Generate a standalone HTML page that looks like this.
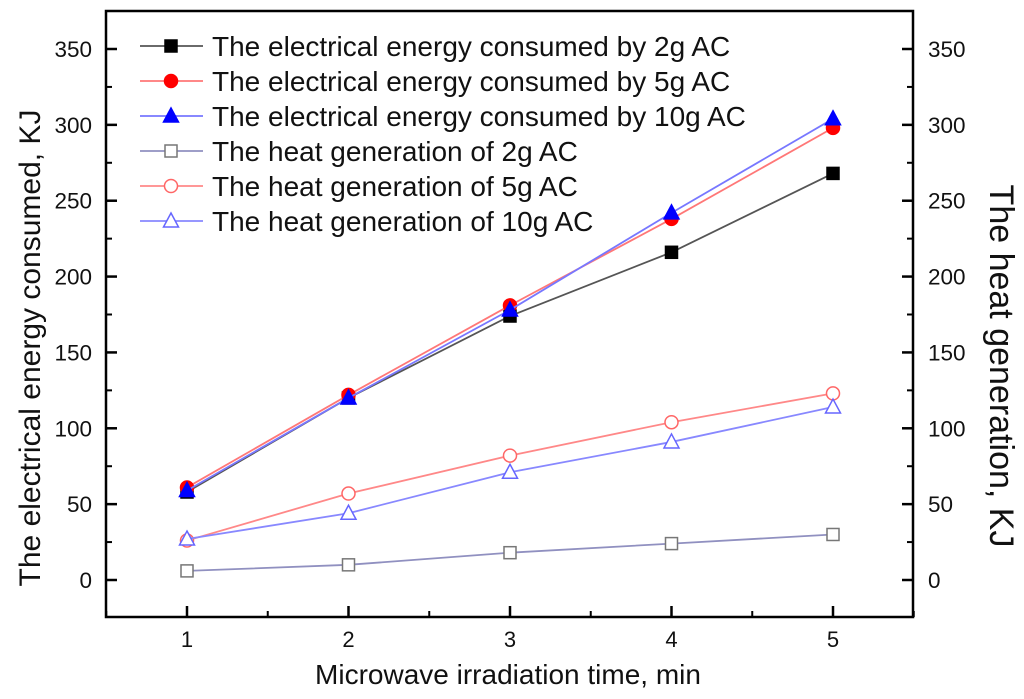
<!DOCTYPE html>
<html><head><meta charset="utf-8"><style>
body{margin:0;background:#fff;}
svg text{font-family:"Liberation Sans",Arial,sans-serif;fill:#111;}
</style></head><body>
<svg id="chart" width="1024" height="694"></svg>
<script>
const categories=[1,2,3,4,5];
const yTicks=[0,50,100,150,200,250,300,350];
const elec2g=[58,120,174,216,268];
const elec5g=[61,122,181,238,298];
const elec10g=[59,120,178,242,304];
const heat2g=[6,10,18,24,30];
const heat5g=[26,57,82,104,123];
const heat10g=[27,44,71,91,114];
const labels=["The electrical energy consumed by 2g AC","The electrical energy consumed by 5g AC","The electrical energy consumed by 10g AC","The heat generation of 2g AC","The heat generation of 5g AC","The heat generation of 10g AC"];

const NS="http://www.w3.org/2000/svg";
const svg=document.getElementById('chart');
const L=106,R=913,T=11,B=617;
const X=v=>187+(v-1)*161.5;
const Y=v=>580-v*(531/350);
function el(t,a,p){const e=document.createElementNS(NS,t);for(const k in a)e.setAttribute(k,a[k]);(p||svg).appendChild(e);return e;}
function txt(x,y,s,a,p){const e=el('text',Object.assign({x:x,y:y,'font-size':22},a||{}),p);e.textContent=s;return e;}

const frame=el('rect',{x:L,y:T,width:R-L,height:B-T,fill:'none',stroke:'#000','stroke-width':2.5});


yTicks.forEach((v,i)=>{
  const y=Y(v);
  el('line',{x1:L,x2:L+11,y1:y,y2:y,stroke:'#000','stroke-width':2.5});
  el('line',{x1:R,x2:R-11,y1:y,y2:y,stroke:'#000','stroke-width':2.5});
  const ym=Y(v+25);
  if(v<350){el('line',{x1:L,x2:L+6,y1:ym,y2:ym,stroke:'#000','stroke-width':2});el('line',{x1:R,x2:R-6,y1:ym,y2:ym,stroke:'#000','stroke-width':2});}
  const a=txt(92,y+8,String(v),{'text-anchor':'end','font-size':22.5});
  
  const b=txt(928,y+8,String(v),{'font-size':22.5});
  
});
categories.forEach((c,i)=>{
  const x=X(c);
  el('line',{x1:x,x2:x,y1:B,y2:B-11,stroke:'#000','stroke-width':2.5});
  if(i<categories.length-1){const xm=X(c+0.5);el('line',{x1:xm,x2:xm,y1:B,y2:B-6,stroke:'#000','stroke-width':2});}
  const t=txt(x,647,String(c),{'text-anchor':'middle','font-size':22});
  
});
el('line',{x1:X(0.5),x2:X(0.5),y1:B,y2:B-6,stroke:'#000','stroke-width':2});
el('line',{x1:X(5.5),x2:X(5.5),y1:B,y2:B-6,stroke:'#000','stroke-width':2});

const xt=txt(508,684,"Microwave irradiation time, min",{'text-anchor':'middle','font-size':28});

const yl=txt(0,0,"The electrical energy consumed, KJ",{'text-anchor':'middle','font-size':30,transform:'translate(40,348) rotate(-90)'});

const yr=txt(0,0,"The heat generation, KJ",{'text-anchor':'middle','font-size':34,transform:'translate(990,366) rotate(90)'});


function marker(g,shape,fill,stroke,x,y){
  if(shape==='sq')el('rect',{x:x-6,y:y-6,width:12,height:12,fill:fill,stroke:stroke,'stroke-width':1.5},g);
  else if(shape==='ci')el('circle',{cx:x,cy:y,r:6.5,fill:fill,stroke:stroke,'stroke-width':1.5},g);
  else el('polygon',{points:`${x},${y-8} ${x+7.5},${y+6} ${x-7.5},${y+6}`,fill:fill,stroke:stroke,'stroke-width':1.5},g);
}
const series=[
 {d:elec2g,line:'#555',shape:'sq',fill:'#000',st:'#000',name:'series-elec-2g'},
 {d:elec5g,line:'#ff7777',shape:'ci',fill:'#f00',st:'#f00',name:'series-elec-5g'},
 {d:elec10g,line:'#7777ff',shape:'tr',fill:'#00f',st:'#00f',name:'series-elec-10g'},
 {d:heat2g,line:'#9090c0',shape:'sq',fill:'#fff',st:'#777',name:'series-heat-2g'},
 {d:heat5g,line:'#ff8888',shape:'ci',fill:'#fff',st:'#f66',name:'series-heat-5g'},
 {d:heat10g,line:'#8888ff',shape:'tr',fill:'#fff',st:'#66f',name:'series-heat-10g'}
];
series.forEach((s,si)=>{
  const g=el('g',{});
  
  
  el('polyline',{points:s.d.map((v,i)=>X(categories[i])+','+Y(v)).join(' '),fill:'none',stroke:s.line,'stroke-width':1.8},g);
  s.d.forEach((v,i)=>marker(g,s.shape,s.fill,s.st,X(categories[i]),Y(v)));
  const ly=46+si*35;
  const lg=el('g',{});
  
  
  el('line',{x1:140,x2:203,y1:ly,y2:ly,stroke:s.line,'stroke-width':1.8},lg);
  marker(lg,s.shape,s.fill,s.st,171,ly);
  txt(212,ly+10,labels[si],{'font-size':28},lg);
});
</script>
</body></html>
